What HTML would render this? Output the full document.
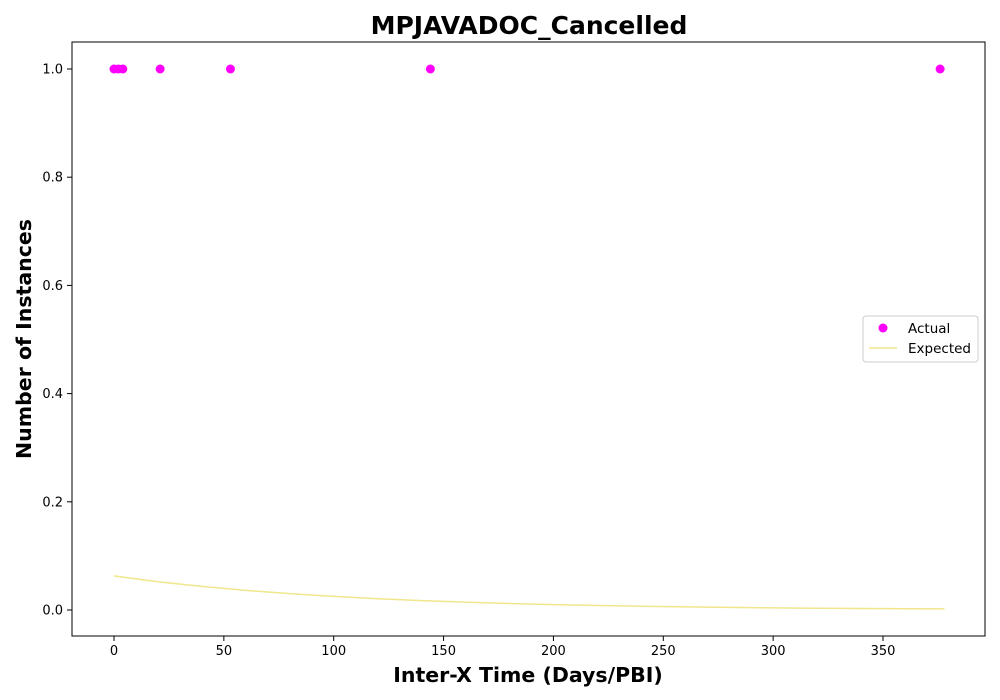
<!DOCTYPE html>
<html><head><meta charset="utf-8"><style>
body{margin:0;background:#fff;font-family:"DejaVu Sans","Liberation Sans",sans-serif}
svg text{font-family:"DejaVu Sans","Liberation Sans",sans-serif}
</style></head><body>
<svg id="chart" width="1000" height="700" style="display:block">
<rect width="1000" height="700" fill="#fff"/>
<text x="529" y="34" text-anchor="middle" font-size="25" font-weight="bold">MPJAVADOC_Cancelled</text>
<text x="528" y="682" text-anchor="middle" font-size="20.5" font-weight="bold">Inter-X Time (Days/PBI)</text>
<text transform="translate(31,339) rotate(-90)" text-anchor="middle" font-size="20.5" font-weight="bold">Number of Instances</text>
<g id="ticks"></g>
<g id="marks"></g>
<rect x="72" y="42" width="913" height="594" fill="none" stroke="#000" stroke-width="1"/>
<g>
<rect x="863" y="316" width="115" height="46" rx="3" fill="#fff" stroke="#ccc"/>
<circle cx="883" cy="328" r="4.5" fill="#ff00ff"/>
<text x="908" y="333" font-size="13.5">Actual</text>
<line x1="869" y1="348" x2="897" y2="348" stroke="#f0e68c" stroke-width="1.5"/>
<text x="908" y="353" font-size="13.5">Expected</text>
</g>
</svg>
<script>
const xTicks=[0,50,100,150,200,250,300,350];
const yTicks=[0.0,0.2,0.4,0.6,0.8,1.0];
const actualX=[0,2,4,21,53,144,376];
const actualY=[1,1,1,1,1,1,1];
const expectedX=[0,20,40,60,80,100,120,140,160,180,200,220,240,260,280,300,320,340,360,378];
const expectedY=[0.063,0.0523,0.0436,0.0362,0.0302,0.0251,0.0209,0.0174,0.0145,0.0120,0.0100,0.0084,0.0070,0.0058,0.0048,0.0040,0.0033,0.0028,0.0023,0.0020];
const NS="http://www.w3.org/2000/svg";
const xs=v=>114+v*(883-114)/350;
const ys=v=>610-v*541;
const ticks=document.getElementById('ticks'),marks=document.getElementById('marks');
function mk(t,a,p){const e=document.createElementNS(NS,t);for(const k in a)e.setAttribute(k,a[k]);p.appendChild(e);return e;}
xTicks.forEach(v=>{const x=xs(v);
 const l=mk('line',{x1:x,y1:636,x2:x,y2:641,stroke:'#000'},ticks);
 
 
 const t=mk('text',{x:x,y:655,'text-anchor':'middle','font-size':13},ticks);t.textContent=v;
 
 });
yTicks.forEach(v=>{const y=ys(v);
 const l=mk('line',{x1:67,y1:y,x2:72,y2:y,stroke:'#000'},ticks);
 
 
 const t=mk('text',{x:63,y:y+4.5,'text-anchor':'end','font-size':13},ticks);t.textContent=v.toFixed(1);
 
 });
const p=mk('polyline',{points:expectedX.map((x,i)=>xs(x)+','+ys(expectedY[i])).join(' '),fill:'none',stroke:'#f0e68c','stroke-width':1.5},marks);


actualX.forEach((x,i)=>{const c=mk('circle',{cx:xs(x),cy:ys(actualY[i]),r:4.5,fill:'#ff00ff'},marks);
 
 });
</script>
</body></html>
